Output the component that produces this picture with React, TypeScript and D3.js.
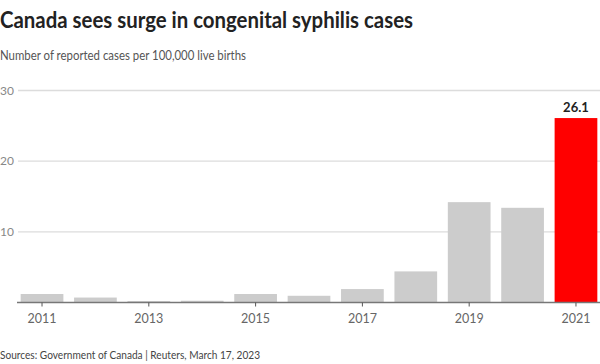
import React, { useEffect, useRef } from 'react';
import * as d3 from 'd3';

const years = ['2011', '2012', '2013', '2014', '2015', '2016', '2017', '2018', '2019', '2020', '2021'];
const rates = [1.2, 0.7, 0.2, 0.25, 1.2, 0.95, 1.9, 4.4, 14.2, 13.4, 26.1];
const yTicks = [10, 20, 30];
const xTickLabels = ['2011', '2013', '2015', '2017', '2019', '2021'];

const App = () => {
  const ref = useRef<SVGSVGElement>(null);

  useEffect(() => {
    const width = 600;
    const height = 364;
    const svg = d3.select(ref.current);
    svg.selectAll('*').remove();

    const font = "'Source Sans Pro', Lato, 'Open Sans', sans-serif";

    // title / subtitle squeezed to the reference widths (Source Sans is narrow)
    svg
      .append('text')
      .attr('x', 0)
      .attr('y', 28)
      .attr('font-family', font)
      .attr('font-size', 22)
      .attr('font-weight', 700)
      .attr('fill', '#222')
      .attr('textLength', 413)
      .attr('lengthAdjust', 'spacingAndGlyphs')
      .text('Canada sees surge in congenital syphilis cases');

    svg
      .append('text')
      .attr('x', 0)
      .attr('y', 60)
      .attr('font-family', font)
      .attr('font-size', 14)
      .attr('font-weight', 400)
      .attr('fill', '#555')
      .attr('textLength', 246)
      .attr('lengthAdjust', 'spacingAndGlyphs')
      .text('Number of reported cases per 100,000 live births');

    const x = d3
      .scaleBand()
      .domain(years)
      .range([18, 600])
      .paddingInner(0.2)
      .paddingOuter(0.05);

    const y = d3.scaleLinear().domain([0, 30]).range([302.5, 90.5]);

    // gridlines + y labels
    const grid = svg.append('g');
    grid
      .selectAll('line')
      .data(yTicks)
      .enter()
      .append('line')
      .attr('x1', 18)
      .attr('x2', 600)
      .attr('y1', (d) => y(d))
      .attr('y2', (d) => y(d))
      .attr('stroke', '#dcdcdc')
      .attr('stroke-width', 1.3);
    grid
      .selectAll('text')
      .data(yTicks)
      .enter()
      .append('text')
      .attr('x', 0)
      .attr('y', (d) => y(d))
      .attr('dy', '0.35em')
      .attr('font-family', font)
      .attr('font-size', 12)
      .attr('fill', '#888')
      .text((d) => d);

    svg
      .selectAll('rect.bar')
      .data(rates)
      .enter()
      .append('rect')
      .attr('class', 'bar')
      .attr('x', (d, i) => x(years[i]) as number)
      .attr('y', (d) => y(d))
      .attr('width', x.bandwidth())
      .attr('height', (d) => y(0) - y(d))
      .attr('fill', (d, i) => (i === years.length - 1 ? '#ff0000' : '#cccccc'));

    const last = rates.length - 1;
    svg
      .append('text')
      .attr('x', (x(years[last]) as number) + x.bandwidth() / 2)
      .attr('y', y(rates[last]) - 6)
      .attr('text-anchor', 'middle')
      .attr('font-family', font)
      .attr('font-size', 13)
      .attr('font-weight', 700)
      .attr('fill', '#222')
      .text(rates[last]);

    // x axis
    const xAxis = d3
      .axisBottom(x)
      .tickValues(xTickLabels)
      .tickSize(4)
      .tickPadding(8);
    const gx = svg.append('g').attr('transform', `translate(0,${y(0)})`).call(xAxis);
    gx.select('.domain').attr('d', `M17,0H600`).attr('stroke', '#777').attr('stroke-width', 1.5);
    gx.selectAll('.tick line').attr('stroke', '#555');
    gx.selectAll('.tick text')
      .attr('font-family', font)
      .attr('font-size', 12.5)
      .attr('fill', '#666');

    svg
      .append('text')
      .attr('x', 0)
      .attr('y', 359)
      .attr('font-family', font)
      .attr('font-size', 11.5)
      .attr('fill', '#444')
      .attr('textLength', 260)
      .attr('lengthAdjust', 'spacingAndGlyphs')
      .text('Sources: Government of Canada | Reuters, March 17, 2023');

    svg.attr('width', width).attr('height', height);
  }, []);

  return (
    <svg
      ref={ref}
      width={600}
      height={364}
      style={{ position: 'absolute', left: 0, top: 0, background: '#fff' }}
    />
  );
};

export default App;
